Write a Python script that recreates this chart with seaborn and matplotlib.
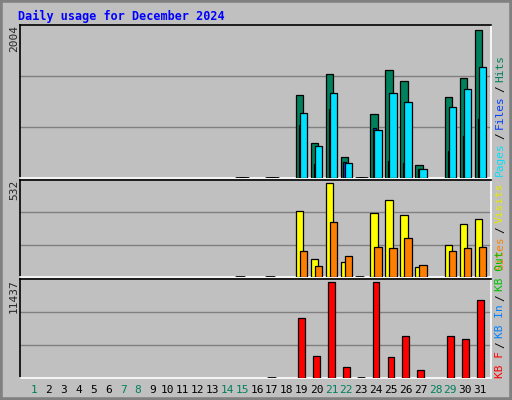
import numpy as np
import seaborn as sns
import matplotlib.pyplot as plt
from matplotlib.patches import Rectangle

sns.set_style("white")
plt.rcParams['font.family'] = ['DejaVu Sans Mono', 'DejaVu Sans']

days = np.arange(1, 32)
weekend = [1, 7, 8, 14, 15, 21, 22, 28, 29]

def series(vals):
    arr = np.full(31, np.nan)
    for d, v in vals.items():
        arr[d - 1] = v
    return arr

hits = series({15: 0, 17: 0, 19: 1131, 20: 477, 21: 1404, 22: 286, 23: 0, 24: 872, 25: 1459,
               26: 1309, 27: 177, 29: 1104, 30: 1350, 31: 2004})
files = series({19: 722, 20: 191, 21: 940, 22: 223, 24: 681, 25: 232, 26: 204, 27: 127,
                29: 372, 30: 572, 31: 803})
pages = series({15: 0, 17: 0, 19: 886, 20: 436, 21: 1159, 22: 204, 23: 0, 24: 654, 25: 1159,
                26: 1036, 27: 127, 29: 968, 30: 1200, 31: 1500})
visits = series({15: 0, 17: 0, 19: 374, 20: 104, 21: 532, 22: 86, 23: 0, 24: 363, 25: 438,
                 26: 351, 27: 58, 29: 184, 30: 300, 31: 328})
sites = series({19: 146, 20: 63, 21: 313, 22: 121, 24: 173, 25: 167, 26: 219, 27: 69,
                29: 146, 30: 167, 31: 173})
kbytes = series({17: 0, 19: 7164, 20: 2639, 21: 11437, 22: 1257, 23: 0, 24: 11437, 25: 2514,
                 26: 5027, 27: 1005, 29: 5027, 30: 4650, 31: 9300})

BG = "#C0C0C0"
W, H = 512, 400
fig = plt.figure(figsize=(W / 100, H / 100), dpi=100, facecolor=BG)

# bevelled frame
fig.patches.append(Rectangle((0, 0), 1, 1, transform=fig.transFigure, fill=False,
                             edgecolor="#808080", lw=4))

def px(x0, y0, x1, y1):
    return [x0 / W, 1 - y1 / H, (x1 - x0) / W, (y1 - y0) / H]

def panel(rect, vmax):
    ax = fig.add_axes(px(*rect))
    ax.set_facecolor(BG)
    ax.set_xlim(0.06, 31.67)
    ax.set_ylim(0, vmax * 1.035)
    for v in (vmax / 3, 2 * vmax / 3):
        ax.axhline(v * 1.035, color="#808080", lw=1, zorder=0)
    ax.set_xticks([])
    ax.set_yticks([])
    for s in ("top", "left"):
        ax.spines[s].set_color("black")
    for s in ("bottom", "right"):
        ax.spines[s].set_color("white")
    for s in ax.spines.values():
        s.set_linewidth(1.2)
    return ax

def bars(ax, vals, off, width, color):
    v = np.nan_to_num(vals, nan=-1)
    mask = v >= 0
    ax.bar(days[mask] + off, v[mask], width=width, color=color, edgecolor="black",
           linewidth=0.9, zorder=3)
    zero = mask & (v == 0)
    for d in days[zero]:
        ax.plot([d + off - width / 2, d + off + width / 2], [0, 0], color="black", lw=2, zorder=4)

ax1 = panel((20, 25, 491, 178), 2004)
bars(ax1, hits, -0.17, 0.5, "#00805C")
bars(ax1, files, -0.13, 0.2, "#0040FF")
bars(ax1, pages, 0.1, 0.5, "#00E0FF")

ax2 = panel((20, 180, 491, 277), 532)
bars(ax2, visits, -0.17, 0.5, "#FFFF00")
bars(ax2, sites, 0.1, 0.5, "#FF8000")

ax3 = panel((20, 279, 491, 378), 11437)
bars(ax3, kbytes, -0.05, 0.45, "#FF0000")

# day labels
for d in days:
    x = (34 + (d - 1) * 14.87) / W
    fig.text(x, 1 - 390 / H, str(d), ha="center", va="center", fontsize=8,
             color="#00805C" if d in weekend else "black")

fig.text(18 / W, 1 - 16 / H, "Daily usage for December 2024", color="#0000FF",
         fontsize=8.5, fontweight="bold", va="center", ha="left")

for y, txt in ((25, "2004"), (180, "532"), (279, "11437")):
    fig.text(14 / W, 1 - y / H, txt, rotation=90, ha="center", va="top", fontsize=8)

CH = 6.8  # px per monospace char at 8pt

def vlabel(x, ybottom, parts):
    y = ybottom
    for txt, col in parts:
        fig.text(x / W, 1 - y / H, txt, rotation=90, ha="center", va="bottom",
                 fontsize=8, color=col)
        y -= len(txt) * CH + 3

vlabel(500, 176, [("Pages", "#00E0FF"), ("/", "black"), ("Files", "#0040FF"),
                  ("/", "black"), ("Hits", "#00805C")])
vlabel(500, 270, [("Sites", "#FF8000"), ("/", "black"), ("Visits", "#E8E800")])
vlabel(500, 378, [("KB F", "#FF0000"), ("/", "black"), ("KB In", "#0080FF"),
                  ("/", "black"), ("KB Out", "#00C000")])

fig.savefig("out.png", dpi=100, facecolor=BG)
